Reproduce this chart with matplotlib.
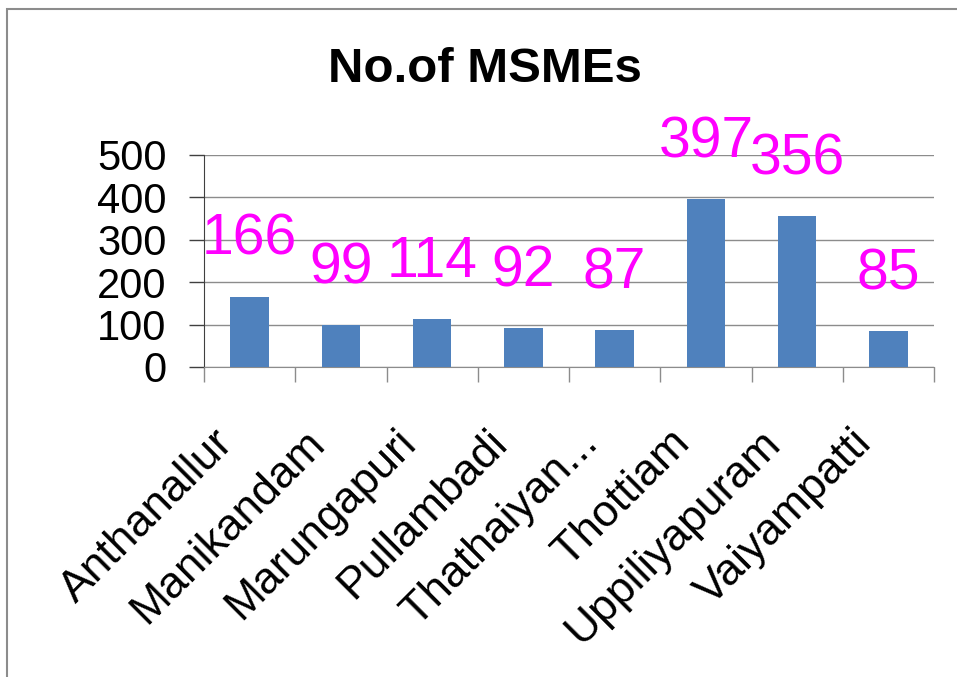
import matplotlib.pyplot as plt
from matplotlib.patches import Rectangle
from matplotlib.transforms import ScaledTranslation

# blocks and their MSME counts
blocks = ["Anthanallur", "Manikandam", "Marungapuri", "Pullambadi",
          "Thathaiyan...", "Thottiam", "Uppiliyapuram", "Vaiyampatti"]
msmes = [166, 99, 114, 92, 87, 397, 356, 85]

plt.rcParams['font.family'] = ['Liberation Sans', 'DejaVu Sans']

fig = plt.figure(figsize=(9.57, 6.77), dpi=100)
ax = fig.add_axes([204 / 957, 1 - 367 / 677, 730 / 957, 212 / 677])

# outer chart frame (left/top visible)
fig.patches.append(Rectangle((7 / 957, -0.1), 1.2, 1 - 9 / 677 + 0.1,
                             transform=fig.transFigure, fill=False,
                             edgecolor="#8c8c8c", lw=1.5))

x = range(len(blocks))
bars = ax.bar(x, msmes, width=0.42, color="#4F81BD", zorder=3)

for xi, v in zip(x, msmes):
    ax.annotate(str(v), (xi, v), xytext=(0, 30), textcoords="offset points",
                ha="center", va="baseline", fontsize=41, color="#FF00FF")

ax.set_xlim(-0.5, len(blocks) - 0.5)
ax.set_ylim(0, 500)
ax.set_yticks(range(0, 501, 100))
ax.tick_params(axis="y", labelsize=30, length=11, width=1, pad=16, color="#404040")
ax.yaxis.grid(True, color="#8c8c8c", lw=1, zorder=0)

ax.set_xticks(list(x))
ax.set_xticklabels(blocks, rotation=45, ha="right", va="center",
                   rotation_mode="anchor", fontsize=32)
ax.tick_params(axis="x", which="major", length=0, pad=50)
shift = ScaledTranslation(-23 / 100, 0, fig.dpi_scale_trans)
for lab in ax.get_xticklabels():
    lab.set_transform(lab.get_transform() + shift)
ax.set_xticks([i - 0.5 for i in range(len(blocks) + 1)], minor=True)
ax.tick_params(axis="x", which="minor", length=11, width=1, color="#8c8c8c")

for s in ["top", "right"]:
    ax.spines[s].set_visible(False)
ax.spines["left"].set_color("#404040")
ax.spines["bottom"].set_color("#8c8c8c")

fig.text(485 / 957, 1 - 70 / 677, "No.of MSMEs", ha="center", va="center",
         fontsize=35.5, fontweight="bold")

fig.savefig("out.png", dpi=100)
